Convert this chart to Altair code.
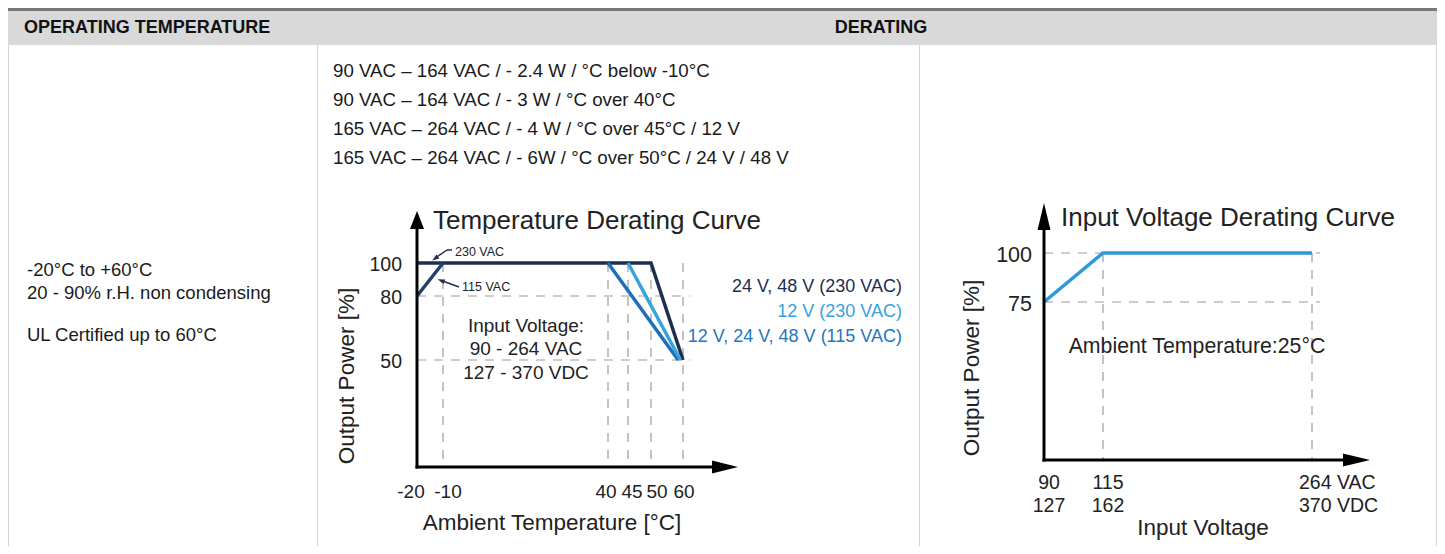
import altair as alt
import pandas as pd

# ---------------- table text ----------------
header_left = "OPERATING TEMPERATURE"
header_right = "DERATING"
op_temp_lines = ["-20°C to +60°C", "20 - 90% r.H. non condensing"]
op_temp_ul = "UL Certified up to 60°C"
derating_lines = [
    "90 VAC – 164 VAC / - 2.4 W / °C below -10°C",
    "90 VAC – 164 VAC / - 3 W / °C over 40°C",
    "165 VAC – 264 VAC / - 4 W / °C over 45°C / 12 V",
    "165 VAC – 264 VAC / - 6W / °C over 50°C / 24 V / 48 V",
]

# ---------------- temperature derating curve ----------------
temp_title = "Temperature Derating Curve"
temp_x_title = "Ambient Temperature [°C]"
temp_y_title = "Output Power [%]"
temp_x_ticks = [-20, -10, 40, 45, 50, 60]
temp_y_ticks = [100, 80, 50]
temp_grid_h = [80, 50]
temp_grid_v = [-10, 40, 45, 50, 60]
input_voltage_note = ["Input Voltage:", "90 - 264 VAC", "127 - 370 VDC"]

series_names = ["230 VAC", "115 VAC", "12 V, 24 V, 48 V (115 VAC)", "12 V (230 VAC)"]
series_colors = ["#1d2e4f", "#22406b", "#1f6fb8", "#35a3de"]
curve_230_temp = [-20, 50, 60]
curve_230_power = [100, 100, 50]
curve_115_temp = [-20, -10]
curve_115_power = [80, 100]
derate_115_temp = [40, 58.5]
derate_115_power = [100, 50]
derate_12v_temp = [45, 59.2]
derate_12v_power = [100, 50]

legend_texts = ["24 V, 48 V (230 VAC)", "12 V (230 VAC)", "12 V, 24 V, 48 V (115 VAC)"]
legend_colors = ["#1d2e4f", "#35a3de", "#2376be"]

# ---------------- input voltage derating curve ----------------
volt_title = "Input Voltage Derating Curve"
volt_x_title = "Input Voltage"
volt_y_title = "Output Power [%]"
volt_note = "Ambient Temperature:25°C"
volt_curve_v = [90, 115, 264]
volt_curve_p = [75, 100, 100]
volt_y_ticks = [100, 75]
volt_x_ticks = [90, 115]
volt_x_labels = ["90\n127", "115\n162"]
volt_x_last = [264]
volt_x_last_label = ["264 VAC\n370 VDC"]
volt_grid_h = [100, 75]
volt_grid_v = [115, 264]

FONT = "Liberation Sans"
TXT = "#222222"
GRID = "#9c9c9c"

one = pd.DataFrame({"a": [0]})


def label(text, x, y, size, align="left", color=TXT, **kw):
    return alt.Chart(one).mark_text(
        align=align, baseline=kw.pop("baseline", "alphabetic"), font=FONT,
        fontSize=size, color=color, **kw
    ).encode(x=alt.value(x), y=alt.value(y), text=alt.value(text))


def rect(x, x2, y, y2, color):
    return alt.Chart(one).mark_rect(color=color).encode(
        x=alt.value(x), x2=alt.value(x2), y=alt.value(y), y2=alt.value(y2))


def seg(x, y, x2, y2, color, width=1.0, **kw):
    return alt.Chart(one).mark_rule(color=color, strokeWidth=width, **kw).encode(
        x=alt.value(x), y=alt.value(y), x2=alt.value(x2), y2=alt.value(y2))


def head(x, y, path, size, color="#000000", angle=0):
    return alt.Chart(one).mark_point(
        shape=path, size=size, filled=True, color=color, opacity=1,
        strokeWidth=0, angle=angle
    ).encode(x=alt.value(x), y=alt.value(y))


# ---------------- table decoration ----------------
table = [
    rect(0, 1429, 0, 37, "#d9d9d9"),
    rect(0, 1429, 0, 3, "#75797c"),
    seg(0.5, 37, 0.5, 538, "#d3d3d3"),
    seg(309.5, 37, 309.5, 538, "#d3d3d3"),
    seg(911.5, 37, 911.5, 538, "#d3d3d3"),
    seg(1428.5, 37, 1428.5, 538, "#d3d3d3"),
    label(header_left, 16, 25, 18, fontWeight="bold", color="#111111"),
    label(header_right, 873, 25, 18, align="center", fontWeight="bold", color="#111111"),
    label(op_temp_lines, 19, 268, 18.5, lineHeight=23, color="#1a1a1a"),
    label(op_temp_ul, 19, 333, 18.5, color="#1a1a1a"),
    label(derating_lines, 325, 69.3, 18.7, lineHeight=29, color="#1a1a1a"),
]

# ---------------- temperature chart ----------------
TX = alt.Scale(domain=temp_x_ticks, range=[409, 435, 600, 620, 643, 675], nice=False, zero=False)
TY = alt.Scale(domain=[0, 50, 80, 100], range=[459, 352, 288, 255], nice=False, zero=False)

rows = []
for name, xs, ys in [
    (series_names[0], curve_230_temp, curve_230_power),
    (series_names[1], curve_115_temp, curve_115_power),
    (series_names[2], derate_115_temp, derate_115_power),
    (series_names[3], derate_12v_temp, derate_12v_power),
]:
    for i, (t, p) in enumerate(zip(xs, ys)):
        rows.append({"series": name, "t": t, "p": p, "o": i})
curves = pd.DataFrame(rows)

dash = dict(color=GRID, strokeWidth=1.2, strokeDash=[9, 8])

t_grid_h = alt.Chart(pd.DataFrame({"p": temp_grid_h})).mark_rule(**dash).encode(
    y=alt.Y("p:Q", scale=TY, axis=None),
    x=alt.XDatum(-20, type="quantitative", scale=TX, axis=None),
    x2=alt.value(682),
)
t_grid_v = alt.Chart(pd.DataFrame({"t": temp_grid_v})).mark_rule(**dash).encode(
    x=alt.X("t:Q", scale=TX, axis=None),
    y=alt.YDatum(100, type="quantitative", scale=TY, axis=None),
    y2=alt.Y2Datum(0),
)
t_lines = alt.Chart(curves).mark_line(strokeWidth=3.5).encode(
    x=alt.X("t:Q", scale=TX, axis=None),
    y=alt.Y("p:Q", scale=TY, axis=None),
    color=alt.Color("series:N", scale=alt.Scale(domain=series_names, range=series_colors), legend=None),
    detail="series:N",
    order="o:O",
)
t_yaxis = alt.Chart(one).mark_rule(color="#000000", strokeWidth=3, strokeCap="square").encode(
    x=alt.XDatum(-20, type="quantitative", scale=TX, axis=None),
    y=alt.YDatum(0, type="quantitative", scale=TY, axis=None),
    y2=alt.value(221),
)
t_xaxis = alt.Chart(one).mark_rule(color="#000000", strokeWidth=3, strokeCap="square").encode(
    x=alt.XDatum(-20, type="quantitative", scale=TX, axis=None),
    x2=alt.value(704),
    y=alt.YDatum(0, type="quantitative", scale=TY, axis=None),
)
t_ylabels = alt.Chart(pd.DataFrame({"v": temp_y_ticks, "s": [str(v) for v in temp_y_ticks]})).mark_text(
    align="right", baseline="middle", dy=2, font=FONT, fontSize=19.5, color=TXT
).encode(y=alt.Y("v:Q", scale=TY, axis=None), x=alt.value(394), text="s:N")

# tick labels, nudged sideways as in the schematic so neighbours do not collide
label_nudge = {-20: -6, -10: 5, 40: -2, 45: 4, 50: 6, 60: 1}
t_xlabels = [
    alt.Chart(pd.DataFrame({"v": [v], "s": [str(v)]})).mark_text(
        align="center", baseline="alphabetic", dx=label_nudge[v], font=FONT,
        fontSize=19, color=TXT
    ).encode(x=alt.X("v:Q", scale=TX, axis=None), y=alt.value(490), text="s:N")
    for v in temp_x_ticks
]

temp_chart = alt.layer(
    t_grid_h, t_grid_v, t_lines, t_yaxis, t_xaxis, t_ylabels, *t_xlabels,
    head(409, 212, "M0,-1L0.78,1L-0.78,1Z", 324),
    head(717, 459, "M1,0L-1,-0.5L-1,0.5Z", 676),
    label(temp_title, 425, 221, 26),
    label(temp_x_title, 544, 522, 22.5, align="center"),
    label(temp_y_title, 339, 368, 22.5, align="center", baseline="middle", angle=270),
    label(input_voltage_note, 518, 323.5, 19, align="center", lineHeight=23.5),
    label(series_names[0], 447, 248, 12.5),
    label(series_names[1], 454, 283, 12.5),
    seg(439, 242, 444, 242, "#1d2e4f", 1.5),
    seg(439, 242, 428, 249.5, "#1d2e4f", 1.5),
    head(427, 250.5, "M1,0L-1,-0.7L-1,0.7Z", 49, "#1d2e4f", 145),
    seg(451, 279, 436, 273.5, "#1d2e4f", 1.5),
    head(433, 272.5, "M1,0L-1,-0.7L-1,0.7Z", 49, "#1d2e4f", 200),
    label(legend_texts[0], 894, 284, 18, align="right", color=legend_colors[0]),
    label(legend_texts[1], 894, 309, 18, align="right", color=legend_colors[1]),
    label(legend_texts[2], 894, 333.5, 18, align="right", color=legend_colors[2]),
)

# ---------------- input voltage chart ----------------
VX = alt.Scale(domain=[90, 115, 264], range=[1036, 1095, 1304], nice=False, zero=False)
VY = alt.Scale(domain=[0, 75, 100], range=[452, 294, 245], nice=False, zero=False)

v_grid_h = alt.Chart(pd.DataFrame({"p": volt_grid_h})).mark_rule(**dash).encode(
    y=alt.Y("p:Q", scale=VY, axis=None),
    x=alt.XDatum(90, type="quantitative", scale=VX, axis=None),
    x2=alt.value(1312),
)
v_grid_v = alt.Chart(pd.DataFrame({"v": volt_grid_v})).mark_rule(**dash).encode(
    x=alt.X("v:Q", scale=VX, axis=None),
    y=alt.YDatum(100, type="quantitative", scale=VY, axis=None),
    y2=alt.Y2Datum(0),
)
v_line = alt.Chart(pd.DataFrame({"v": volt_curve_v, "p": volt_curve_p})).mark_line(
    strokeWidth=3.5, color="#2a9ad8"
).encode(x=alt.X("v:Q", scale=VX, axis=None), y=alt.Y("p:Q", scale=VY, axis=None))
v_yaxis = alt.Chart(one).mark_rule(color="#000000", strokeWidth=3, strokeCap="square").encode(
    x=alt.XDatum(90, type="quantitative", scale=VX, axis=None),
    y=alt.YDatum(0, type="quantitative", scale=VY, axis=None),
    y2=alt.value(222),
)
v_xaxis = alt.Chart(one).mark_rule(color="#000000", strokeWidth=3, strokeCap="square").encode(
    x=alt.XDatum(90, type="quantitative", scale=VX, axis=None),
    x2=alt.value(1335),
    y=alt.YDatum(0, type="quantitative", scale=VY, axis=None),
)
v_ylabels = alt.Chart(pd.DataFrame({"v": volt_y_ticks, "s": [str(v) for v in volt_y_ticks]})).mark_text(
    align="right", baseline="middle", dy=3, font=FONT, fontSize=21.5, color=TXT
).encode(y=alt.Y("v:Q", scale=VY, axis=None), x=alt.value(1024), text="s:N")
v_xlabels = alt.Chart(pd.DataFrame({"v": volt_x_ticks, "s": volt_x_labels})).mark_text(
    align="center", baseline="alphabetic", dx=5, font=FONT, fontSize=19.5, lineHeight=23,
    lineBreak="\n", color=TXT
).encode(x=alt.X("v:Q", scale=VX, axis=None), y=alt.value(481), text="s:N")
v_xlabel_last = alt.Chart(pd.DataFrame({"v": volt_x_last, "s": volt_x_last_label})).mark_text(
    align="left", baseline="alphabetic", dx=-13, font=FONT, fontSize=19.5, lineHeight=23,
    lineBreak="\n", color=TXT
).encode(x=alt.X("v:Q", scale=VX, axis=None), y=alt.value(481), text="s:N")

volt_chart = alt.layer(
    v_grid_h, v_grid_v, v_line, v_yaxis, v_xaxis, v_ylabels, v_xlabels, v_xlabel_last,
    head(1036, 208.5, "M0,-1L0.48,1L-0.48,1Z", 729),
    head(1348.5, 452, "M1,0L-1,-0.48L-1,0.48Z", 729),
    label(volt_title, 1053, 218, 26),
    label(volt_x_title, 1195, 527, 22.5, align="center"),
    label(volt_y_title, 964, 360, 22.5, align="center", baseline="middle", angle=270),
    label(volt_note, 1189, 345, 21.3, align="center"),
)

chart = alt.layer(*table, temp_chart, volt_chart).resolve_scale(
    x="independent", y="independent", color="independent"
).properties(
    width=1429, height=538, padding=0,
    autosize=alt.AutoSizeParams(type="none"),
    background="#ffffff",
).configure_view(stroke=None)

chart.save("out.html", embed_options={"renderer": "svg", "actions": False})
